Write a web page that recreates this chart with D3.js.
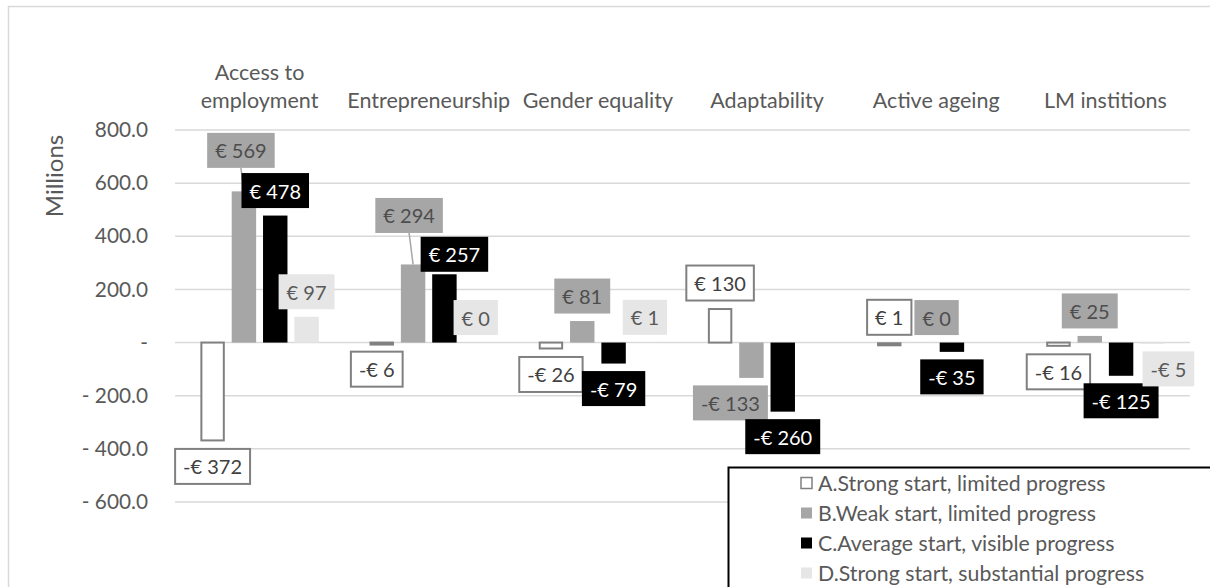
<!DOCTYPE html>
<html>
<head>
<meta charset="utf-8">
<script src="https://cdn.jsdelivr.net/npm/d3@7"></script>
<style>
  html, body { margin: 0; padding: 0; background: #fff; }
  svg { display: block; font-family: Lato, "Open Sans", sans-serif; }
</style>
</head>
<body>
<svg id="chart" width="1210" height="587"></svg>
<script>
// Categories (first one wraps over two lines)
const categories = ["Access to employment", "Entrepreneurship", "Gender equality", "Adaptability", "Active ageing", "LM institions"];
const categoryLines = [["Access to", "employment"], ["Entrepreneurship"], ["Gender equality"], ["Adaptability"], ["Active ageing"], ["LM institions"]];

// Series names and values (millions of euro); null = not shown
const seriesNames = [
  "A.Strong start, limited progress",
  "B.Weak start, limited progress",
  "C.Average start, visible progress",
  "D.Strong start, substantial progress"
];
const seriesA = [-372, -6, -26, 130, 1, -16];
const seriesB = [569, 294, 81, -133, 0, 25];
const seriesC = [478, 257, -79, -260, -35, -125];
const seriesD = [97, 0, 1, null, null, -5];

// Axis ticks
const yTicks = [-600, -400, -200, 0, 200, 400, 600, 800];
const yTickLabels = ["- 600.0", "- 400.0", "- 200.0", "-", "200.0", "400.0", "600.0", "800.0"];

// Series styling
const seriesStyle = [
  { fill: "#ffffff", stroke: "#808080", labelFill: "#ffffff", labelStroke: "#808080", text: "#404040" },
  { fill: "#a6a6a6", stroke: "none", labelFill: "#a6a6a6", labelStroke: "none", text: "#4d4d4d" },
  { fill: "#000000", stroke: "none", labelFill: "#000000", labelStroke: "none", text: "#ffffff" },
  { fill: "#e6e6e6", stroke: "none", labelFill: "#e6e6e6", labelStroke: "none", text: "#595959" }
];

// Hand-placed label nudges (pixels from the default outside-end spot)
const labelNudge = {
  "0-1": { dx: -3, dy: -16, leader: true },
  "1-0": { dx: -5, dy: 0 },
  "1-1": { dx: -4, dy: -24, leader: true },
  "1-2": { dx: 10, dy: 5 },
  "3-1": { dx: -21, dy: 0 },
  "4-1": { dx: 16, dy: 0 },
  "5-3": { dx: 16, dy: 0 }
};

const allSeries = [seriesA, seriesB, seriesC, seriesD];
const rows = [];
categories.forEach((c, ci) => {
  allSeries.forEach((s, si) => {
    if (s[ci] !== null) rows.push({ ci, si, cat: c, value: s[ci] });
  });
});

const svg = d3.select("#chart");
const plot = { left: 175, right: 1190, top: 130, bottom: 502 };

// Outer chart frame
svg.append("rect")
  .attr("x", 8.5).attr("y", 6.5).attr("width", 1230).attr("height", 620)
  .attr("fill", "#fff").attr("stroke", "#d9d9d9").attr("stroke-width", 1.5);

const x0 = d3.scaleBand().domain(categories).range([plot.left, plot.right]).paddingInner(0.3).paddingOuter(0.15);
const x1 = d3.scaleBand().domain([0, 1, 2, 3]).range([0, x0.bandwidth()]).paddingInner(0.22).paddingOuter(0);
const y = d3.scaleLinear().domain([-600, 800]).range([plot.bottom, plot.top]);

// Gridlines
svg.append("g").selectAll("line").data(yTicks).join("line")
  .attr("x1", plot.left).attr("x2", plot.right)
  .attr("y1", d => y(d)).attr("y2", d => y(d))
  .attr("stroke", "#d9d9d9").attr("stroke-width", 1.5);

// Y axis labels
const yAxis = d3.axisLeft(y).tickValues(yTicks).tickSize(0).tickPadding(0)
  .tickFormat((d, i) => yTickLabels[i]);
const yg = svg.append("g").attr("transform", `translate(148,0)`).call(yAxis);
yg.select(".domain").remove();
yg.selectAll("text").attr("fill", "#595959").style("font-size", "20.8px").style("font-family", "Lato, sans-serif");

// Axis title
svg.append("text")
  .attr("transform", "translate(63,176) rotate(-90)")
  .attr("text-anchor", "middle")
  .attr("fill", "#595959")
  .style("font-size", "24px")
  .text("Millions");

// Category labels at the top
const catG = svg.append("g").selectAll("text").data(categories).join("text")
  .attr("x", d => x0(d) + x0.bandwidth() / 2)
  .attr("text-anchor", "middle")
  .attr("fill", "#595959")
  .style("font-size", "21.5px");
catG.each(function(d, i) {
  const lines = categoryLines[i];
  const t = d3.select(this);
  lines.forEach((ln, li) => {
    t.append("tspan")
      .attr("x", x0(d) + x0.bandwidth() / 2)
      .attr("y", 108 - (lines.length - 1 - li) * 28)
      .text(ln);
  });
});

// Bars
const barX = r => x0(r.cat) + x1(r.si);
svg.append("g").selectAll("rect").data(rows).join("rect")
  .attr("x", r => barX(r) + (r.si === 0 ? 1 : 0))
  .attr("width", r => x1.bandwidth() - (r.si === 0 ? 2 : 0))
  .attr("y", r => Math.min(y(r.value), y(0)) + (r.si === 0 ? (r.value >= 0 ? 1 : 0) : 0))
  .attr("height", r => Math.max(Math.abs(y(r.value) - y(0)) - (r.si === 0 ? 1 : 0), r.si === 0 ? 2 : 0.01))
  .attr("fill", r => seriesStyle[r.si].fill)
  .attr("stroke", r => seriesStyle[r.si].stroke)
  .attr("stroke-width", 2);

// Data labels with boxes
const fmt = v => (v < 0 ? "-€ " : "€ ") + Math.abs(v);
const labG = svg.append("g");
rows.forEach(r => {
  const st = seriesStyle[r.si];
  const nudge = labelNudge[r.ci + "-" + r.si] || { dx: 0, dy: 0 };
  const cx = barX(r) + x1.bandwidth() / 2 + nudge.dx;
  const endY = y(r.value);
  const cy = (r.value >= 0 ? endY - 25 : endY + 25) + nudge.dy;
  const g = labG.append("g");
  const rect = g.append("rect");
  const txt = g.append("text")
    .attr("x", cx).attr("y", cy)
    .attr("text-anchor", "middle")
    .attr("dominant-baseline", "central")
    .attr("fill", st.text)
    .style("font-size", "20px")
    .text(fmt(r.value));
  const w = txt.node().getComputedTextLength() + 16;
  const h = 35;
  rect.attr("x", cx - w / 2).attr("y", cy - h / 2).attr("width", w).attr("height", h)
    .attr("fill", st.labelFill).attr("stroke", st.labelStroke).attr("stroke-width", 2);
  if (nudge.leader) {
    labG.insert("line", ":first-child")
      .attr("x1", cx).attr("y1", cy + h / 2)
      .attr("x2", barX(r) + x1.bandwidth() / 2).attr("y2", endY)
      .attr("stroke", "#a6a6a6").attr("stroke-width", 1.5);
  }
});

// Legend
const leg = svg.append("g");
leg.append("rect").attr("x", 728.5).attr("y", 467.5).attr("width", 600).attr("height", 200)
  .attr("fill", "#fff").attr("stroke", "#000").attr("stroke-width", 2);
seriesNames.forEach((name, i) => {
  const ly = 483 + i * 30;
  const st = seriesStyle[i];
  leg.append("rect").attr("x", 801).attr("y", ly - 5.5).attr("width", 11).attr("height", 11)
    .attr("fill", st.fill).attr("stroke", st.stroke).attr("stroke-width", 1.5);
  leg.append("text").attr("x", 818).attr("y", ly)
    .attr("dominant-baseline", "central")
    .attr("fill", "#595959")
    .style("font-size", "21.3px")
    .text(name);
});
</script>
</body>
</html>
